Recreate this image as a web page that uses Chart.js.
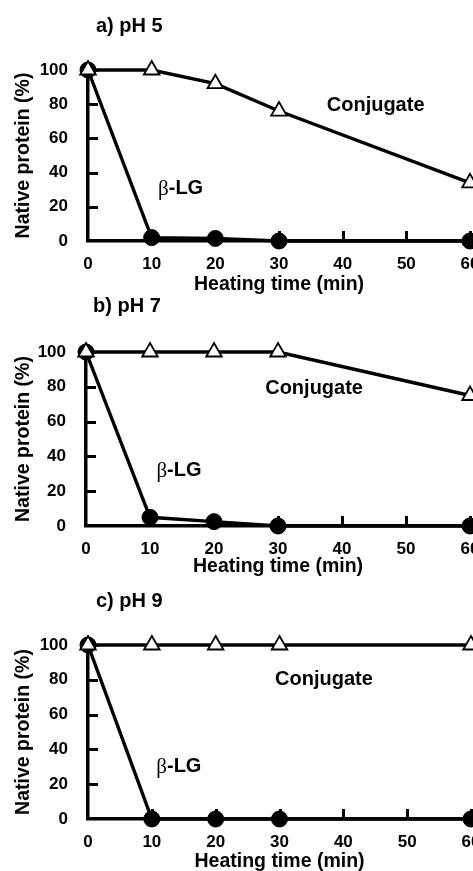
<!DOCTYPE html>
<html><head><meta charset="utf-8">
<script src="https://cdn.jsdelivr.net/npm/chart.js@4"></script>
<style>
html,body{margin:0;padding:0;background:#fff;overflow:hidden;width:473px;height:871px;position:relative;}
.p{position:absolute;left:0;}
canvas{display:block;}
</style></head><body>
<div class="p" id="pa"><canvas id="ca"></canvas></div>
<div class="p" id="pb"><canvas id="cb"></canvas></div>
<div class="p" id="pc"><canvas id="cc"></canvas></div>
<script>
// ---- data ----
const times = [0, 10, 20, 30, 60];
const xTicks = [0, 10, 20, 30, 40, 50, 60];
const yTicks = [0, 20, 40, 60, 80, 100];
const conjugatePH5 = [100, 100, 92, 76, 34];
const betaLgPH5    = [100, 2, 1.5, 0, 0];
const conjugatePH7 = [100, 100, 100, 100, 75];
const betaLgPH7    = [100, 5, 2.5, 0, 0];
const conjugatePH9 = [100, 100, 100, 100, 100];
const betaLgPH9    = [100, 0, 0, 0, 0];
const panelTitles = ['a) pH 5', 'b) pH 7', 'c) pH 9'];
const seriesNames = ['Conjugate', 'β-LG'];
const xTitle = 'Heating time (min)';
const yTitle = 'Native protein (%)';

// ---- layout (pixels) ----
const CW = 500;
const panels = [
  {canvas:'ca', div:'pa', conj:conjugatePH5, blg:betaLgPH5, title:panelTitles[0],
   T:0, H:294, left:88, right:470, top:70, bottom:241, titleX:96, titleY:26,
   conjAt:[37.5, 79], blgAt:[11, 31]},
  {canvas:'cb', div:'pb', conj:conjugatePH7, blg:betaLgPH7, title:panelTitles[1],
   T:290, H:286, left:86, right:470, top:62, bottom:236, titleX:93, titleY:16,
   conjAt:[28, 79], blgAt:[11, 32]},
  {canvas:'cc', div:'pc', conj:conjugatePH9, blg:betaLgPH9, title:panelTitles[2],
   T:580, H:291, left:88, right:471, top:65, bottom:239, titleX:96, titleY:21,
   conjAt:[29.3, 80], blgAt:[10.7, 30]}
];

const SANS = "'Liberation Sans', Arial, Helvetica, sans-serif";
const SERIF = "'Liberation Serif', 'DejaVu Serif', serif";

function decor(p) {
  return {
    id: 'decor',
    beforeDatasetsDraw(chart) {
      const {ctx, chartArea, scales} = chart;
      ctx.save();
      ctx.strokeStyle = '#000';
      ctx.lineWidth = 3;
      ctx.beginPath();
      scales.y.ticks.forEach(t => {
        if (t.value === 0) return;
        const py = Math.round(scales.y.getPixelForValue(t.value)) + 0.5;
        ctx.moveTo(chartArea.left, py);
        ctx.lineTo(chartArea.left + 10, py);
      });
      scales.x.ticks.forEach(t => {
        if (t.value === 0) return;
        const px = Math.round(scales.x.getPixelForValue(t.value)) + 0.5;
        ctx.moveTo(px, chartArea.bottom);
        ctx.lineTo(px, chartArea.bottom - 10);
      });
      ctx.stroke();
      ctx.restore();
    },
    afterDraw(chart) {
      const {ctx, scales} = chart;
      ctx.save();
      ctx.fillStyle = '#000';
      ctx.textBaseline = 'middle';
      ctx.textAlign = 'left';
      ctx.font = 'bold 20px ' + SANS;
      ctx.fillText(p.title, p.titleX, p.titleY);
      // Conjugate label
      ctx.fillText(seriesNames[0], scales.x.getPixelForValue(p.conjAt[0]), scales.y.getPixelForValue(p.conjAt[1]));
      // beta-LG label
      const bx = scales.x.getPixelForValue(p.blgAt[0]);
      const by = scales.y.getPixelForValue(p.blgAt[1]);
      ctx.font = '21px ' + SERIF;
      const beta = seriesNames[1].charAt(0);
      ctx.fillText(beta, bx, by + 1);
      const bw = ctx.measureText(beta).width;
      ctx.font = 'bold 20px ' + SANS;
      ctx.fillText(seriesNames[1].slice(1), bx + bw, by);
      ctx.restore();
    }
  };
}

panels.forEach(p => {
  const div = document.getElementById(p.div);
  div.style.top = p.T + 'px';
  const cv = document.getElementById(p.canvas);
  cv.width = CW; cv.height = p.H;
  cv.style.width = CW + 'px'; cv.style.height = p.H + 'px';
  new Chart(cv, {
    type: 'line',
    data: {
      datasets: [
        {
          label: seriesNames[0],
          data: times.map((t, i) => ({x: t, y: p.conj[i]})),
          borderColor: '#000', borderWidth: 3.4, tension: 0,
          pointStyle: 'triangle', pointRadius: 9, pointHoverRadius: 9,
          pointBackgroundColor: '#fff', pointBorderColor: '#000', pointBorderWidth: 1.8,
          clip: false
        },
        {
          label: seriesNames[1],
          data: times.map((t, i) => ({x: t, y: p.blg[i]})),
          borderColor: '#000', borderWidth: 3.4, tension: 0,
          pointStyle: 'circle', pointRadius: 8, pointHoverRadius: 8,
          pointBackgroundColor: '#000', pointBorderColor: '#000', pointBorderWidth: 1,
          clip: false
        }
      ]
    },
    options: {
      responsive: false,
      animation: false,
      devicePixelRatio: 1,
      events: [],
      layout: {padding: {left: 0, right: CW - p.right, top: p.top, bottom: 0}},
      plugins: {legend: {display: false}, tooltip: {enabled: false}, title: {display: false}},
      scales: {
        x: {
          type: 'linear', min: 0, max: 60,
          afterBuildTicks: s => { s.ticks = xTicks.map(v => ({value: v})); },
          afterFit: s => { s.height = p.H - p.bottom; },
          grid: {display: false, drawTicks: false},
          border: {display: true, width: 3.5, color: '#000'},
          ticks: {color: '#000', padding: 13, font: {family: SANS, size: 17, weight: 'bold'}, maxRotation: 0, autoSkip: false},
          title: {display: true, text: xTitle, color: '#000', padding: {top: 0, bottom: 0},
                  font: {family: SANS, size: 19.5, weight: 'bold', lineHeight: 1}}
        },
        y: {
          type: 'linear', min: 0, max: 100,
          afterBuildTicks: s => { s.ticks = yTicks.map(v => ({value: v})); },
          afterFit: s => { s.width = p.left; },
          grid: {display: false, drawTicks: false},
          border: {display: true, width: 3.5, color: '#000'},
          ticks: {color: '#000', padding: 20, font: {family: SANS, size: 17, weight: 'bold'}},
          title: {display: true, text: yTitle, color: '#000', padding: {top: 14, bottom: 0},
                  font: {family: SANS, size: 19.5, weight: 'bold', lineHeight: 1}}
        }
      }
    },
    plugins: [decor(p)]
  });
});
</script>
</body></html>
